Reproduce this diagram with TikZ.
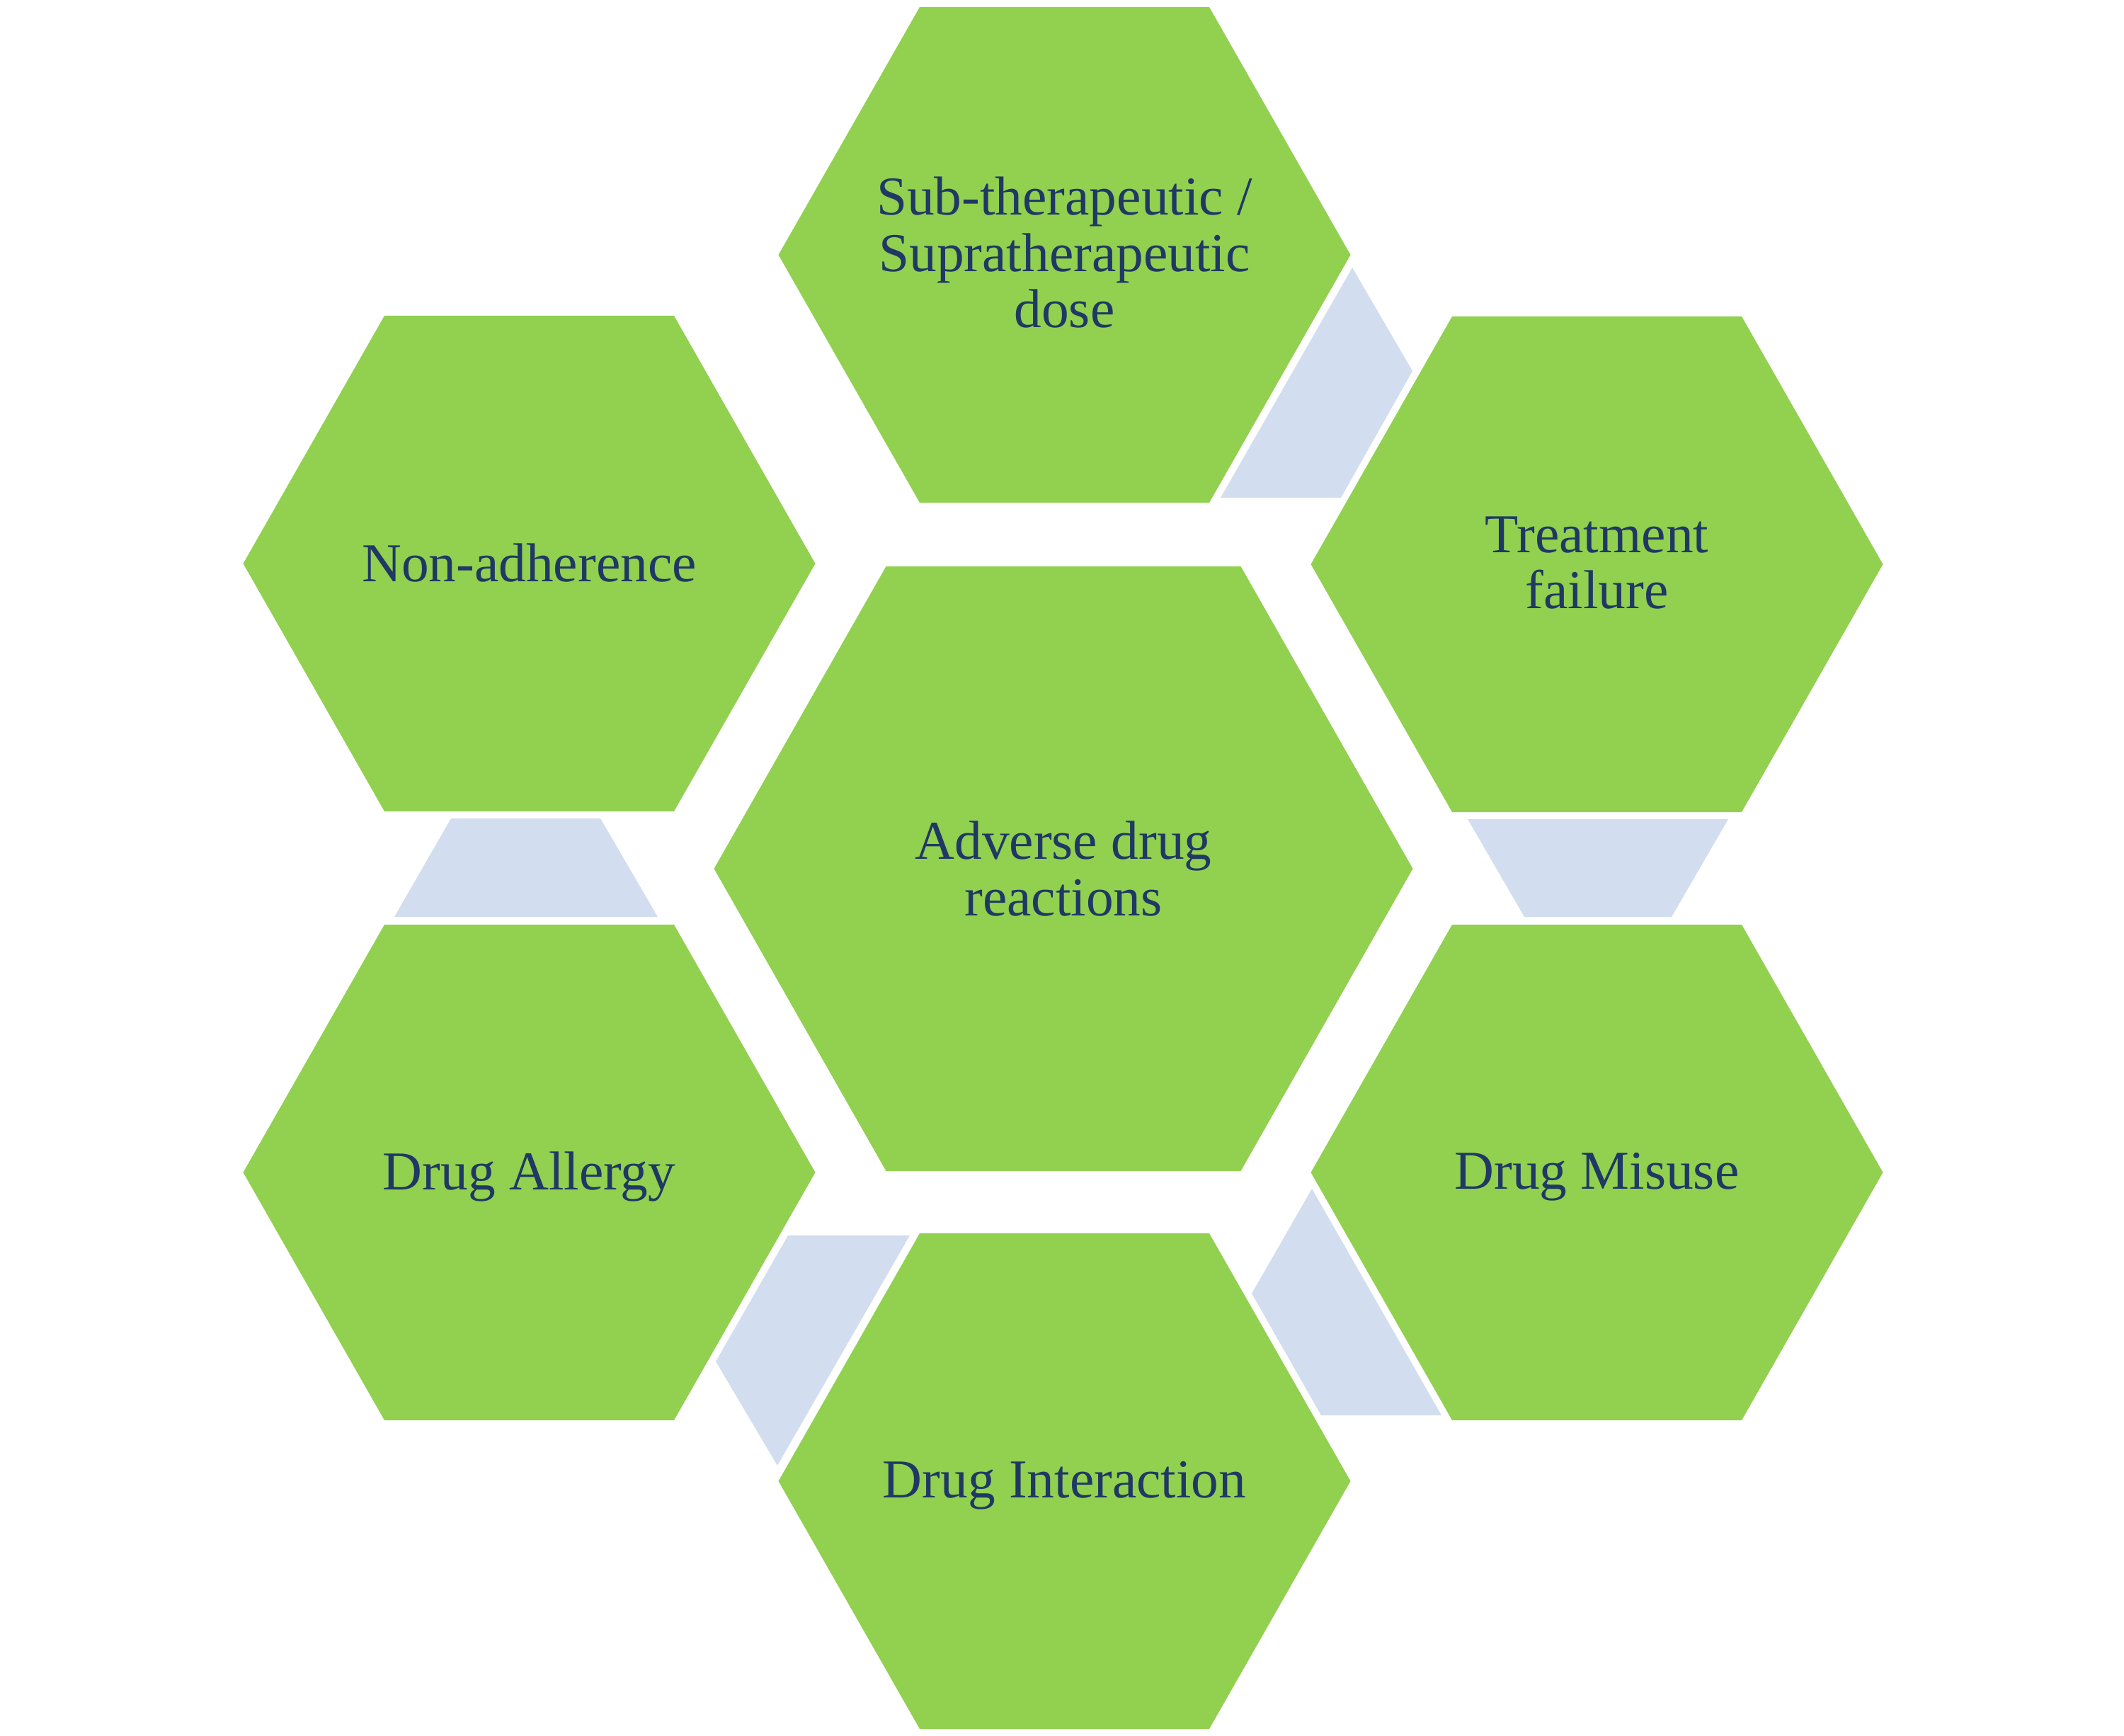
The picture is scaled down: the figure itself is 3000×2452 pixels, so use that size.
\documentclass[tikz,border=0pt]{standalone}
\usepackage{fontspec}
\setmainfont{Liberation Serif}
\definecolor{hexgreen}{RGB}{146,208,80}
\definecolor{linkblue}{RGB}{210,222,239}
\definecolor{txtnavy}{RGB}{31,56,100}
\tikzset{
  hexfill/.style={fill=hexgreen},
  linkfill/.style={fill=linkblue},
  lbl/.style={text=txtnavy, align=center, inner sep=0pt, font=\fontsize{22}{22.6}\selectfont}
}
\begin{document}
\begin{tikzpicture}[x=0.01cm,y=-0.01cm]
\fill[white] (0,0) rectangle (3000,2452);
\useasboundingbox (0,0) rectangle (3000,2452);
% outer hexagons
\foreach \cx/\cy in {1503.5/360, 2255.5/797, 2255.5/1656, 1503.5/2092, 747.5/1656, 747.5/796}{
  \fill[hexfill, shift={(\cx,\cy)}] (-404,0) -- (-204.5,-350) -- (204.5,-350) -- (404,0) -- (204.5,350) -- (-204.5,350) -- cycle;
}
% centre hexagon
\fill[hexfill, shift={(1502,1227)}] (-493.5,0) -- (-250.5,-427) -- (250.5,-427) -- (493.5,0) -- (250.5,427) -- (-250.5,427) -- cycle;
% link shapes
\fill[linkfill] (1910,378) -- (1995,524) -- (1894,703) -- (1724,703) -- cycle;
\fill[linkfill] (2073,1157) -- (2441,1157) -- (2361,1295) -- (2153,1295) -- cycle;
\fill[linkfill] (1853,1679) -- (1768,1827) -- (1866,1999) -- (2036,1999) -- cycle;
\fill[linkfill] (1113,1745) -- (1285,1745) -- (1098,2070) -- (1011,1923) -- cycle;
\fill[linkfill] (637,1156) -- (848,1156) -- (929,1295) -- (557,1295) -- cycle;
% labels
\node[lbl] (dose) at (1503.5,357) {Sub-therapeutic /\\Supratherapeutic\\dose};
\node[lbl] (fail) at (2255.5,795) {Treatment\\failure};
\node[lbl] (misuse) at (2255.5,1662) {Drug Misuse};
\node[lbl] (inter) at (1503.5,2098) {Drug Interaction};
\node[lbl] (allergy) at (747.5,1662) {Drug Allergy};
\node[lbl] (nonadh) at (747.5,795) {Non-adherence};
\node[lbl] (adr) at (1502,1227) {Adverse drug\\reactions};
\end{tikzpicture}
\end{document}
